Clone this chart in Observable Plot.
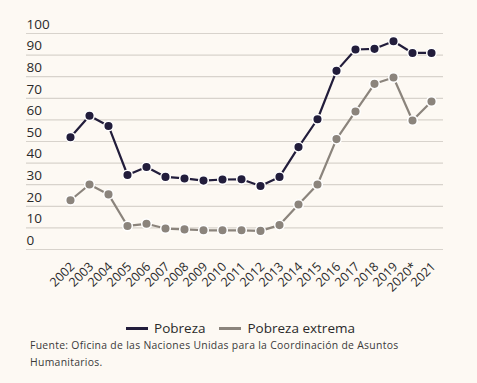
<!DOCTYPE html>
<html>
<head>
<meta charset="utf-8">
<script src="https://cdn.jsdelivr.net/npm/d3@7"></script>
<script src="https://cdn.jsdelivr.net/npm/@observablehq/plot@0.6"></script>
<style>
  html, body { margin: 0; padding: 0; background: #fdf9f3; }
  #wrap { width: 477px; height: 383px; overflow: hidden; font-family: "Open Sans", sans-serif; }
  .legend { display: flex; justify-content: center; align-items: center; gap: 14px; font-size: 13.5px; color: #2a2a2a; margin-top: 19px; height: 18px; padding-left: 4px; }
  .legend span.sw { display: inline-block; width: 22px; height: 3px; margin-right: 6px; vertical-align: middle; }
  .legend .item { display: flex; align-items: center; }
  .caption { font-family: "Open Sans", sans-serif; font-size: 10.4px; letter-spacing: 0.3px; color: #3a3a3a; line-height: 17px; padding-left: 30px; margin-top: 0px; width: 440px; }
</style>
</head>
<body>
<div id="wrap"></div>
<script>
const years = ["2002","2003","2004","2005","2006","2007","2008","2009","2010","2011","2012","2013","2014","2015","2016","2017","2018","2019","2020*","2021"];
const pobreza = [52.0, 61.9, 57.2, 34.5, 38.2, 33.6, 32.9, 31.9, 32.4, 32.5, 29.4, 33.6, 47.4, 60.3, 82.7, 92.6, 92.9, 96.4, 91.0, 91.0];
const extrema = [22.8, 30.1, 25.5, 10.9, 11.9, 9.7, 9.3, 8.9, 8.9, 8.9, 8.6, 11.3, 20.8, 30.1, 51.1, 63.9, 76.7, 79.6, 59.7, 68.5];
const yTicks = [0, 10, 20, 30, 40, 50, 60, 70, 80, 90, 100];
const seriesNames = ["Pobreza", "Pobreza extrema"];
const colors = ["#221d3b", "#8b847c"];

const rowsP = years.map((y, i) => ({year: y, value: pobreza[i], serie: seriesNames[0]}));
const rowsE = years.map((y, i) => ({year: y, value: extrema[i], serie: seriesNames[1]}));

const chart = Plot.plot({
  width: 477,
  height: 300,
  marginLeft: 26,
  marginRight: 34,
  marginTop: 33,
  marginBottom: 51,
  style: { background: "transparent", fontFamily: "Open Sans, sans-serif", fontSize: "13px", color: "#2a2a2a" },
  x: { type: "point", domain: years, range: [67, 433], padding: 0, label: null },
  y: { domain: [0, 100], label: null },
  marks: [
    Plot.gridY(yTicks, { stroke: "#d8d3cc", strokeOpacity: 1, strokeWidth: 1.2 }),
    Plot.axisY(yTicks, { tickSize: 0, tickPadding: 0, textAnchor: "start", dx: 0, dy: -9, fontSize: 13.5, fill: "#2a2a2a", label: null }),
    Plot.axisX({ tickRotate: -45, tickSize: 0, tickPadding: 15, fontSize: 12.5, fill: "#2a2a2a", dx: 2, label: null }),
    Plot.line(rowsE, { x: "year", y: "value", stroke: colors[1], strokeWidth: 2.2 }),
    Plot.dot(rowsE, { x: "year", y: "value", r: 4.8, fill: colors[1], stroke: "#ffffff", strokeWidth: 1.5 }),
    Plot.line(rowsP, { x: "year", y: "value", stroke: colors[0], strokeWidth: 2.2 }),
    Plot.dot(rowsP, { x: "year", y: "value", r: 4.8, fill: colors[0], stroke: "#ffffff", strokeWidth: 1.5 })
  ]
});

const wrap = document.getElementById("wrap");
wrap.appendChild(chart);

const legend = document.createElement("div");
legend.className = "legend";
seriesNames.forEach((n, i) => {
  const it = document.createElement("div");
  it.className = "item";
  const sw = document.createElement("span");
  sw.className = "sw";
  sw.style.background = colors[i];
  it.appendChild(sw);
  it.appendChild(document.createTextNode(n));
  legend.appendChild(it);
});
wrap.appendChild(legend);

const cap = document.createElement("div");
cap.className = "caption";
cap.innerHTML = "Fuente: Oficina de las Naciones Unidas para la Coordinación de Asuntos<br>Humanitarios.";
wrap.appendChild(cap);
</script>
</body>
</html>
